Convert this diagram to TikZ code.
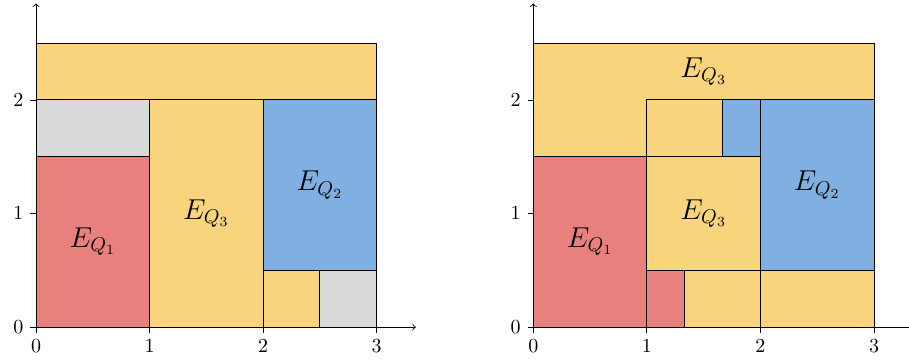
\documentclass[tikz,border=0pt]{standalone}
\definecolor{regionred}{RGB}{232,128,125}
\definecolor{regionyellow}{RGB}{248,213,124}
\definecolor{regionblue}{RGB}{128,176,226}
\definecolor{regiongray}{RGB}{217,217,217}
\usepackage{tikz}
\usepackage{amsmath,amssymb}
\usetikzlibrary{arrows,positioning,calc}

\begin{document}
\begin{tikzpicture}[x=2cm,y=2cm,
    cell/.style={draw=black, line width=0.5pt},
    region/.style={font=\Large}]
    \useasboundingbox (-0.317,-0.317) rectangle (7.687,2.88);

    % Left partition
    \filldraw[cell, fill=regionyellow] (0,2) rectangle (3,2.5);
    \filldraw[cell, fill=regiongray] (0,1.5) rectangle (1,2);
    \filldraw[cell, fill=regionred] (0,0) rectangle (1,1.5);
    \filldraw[cell, fill=regionyellow] (1,0) rectangle (2,2);
    \filldraw[cell, fill=regionblue] (2,0.5) rectangle (3,2);
    \filldraw[cell, fill=regionyellow] (2,0) rectangle (2.5,0.5);
    \filldraw[cell, fill=regiongray] (2.5,0) rectangle (3,0.5);

    % Left labels
    \node[region] (lq1) at (0.5,0.75) {$E_{Q_1}$};
    \node[region] (lq3) at (1.5,1) {$E_{Q_3}$};
    \node[region] (lq2) at (2.5,1.25) {$E_{Q_2}$};

    % Left axes
    \draw[->] (0,0) -- (3.345,0);
    \draw[->] (0,0) -- (0,2.85);
    \foreach \i in {0,1,2,3} {
        \draw (\i,0) -- (\i,-0.05);
        \node[below] (lx\i) at (\i,-0.05) {$\i$};
    }
    \foreach \j in {0,1,2} {
        \draw (0,\j) -- (-0.05,\j);
        \node[left] (ly\j) at (-0.05,\j) {$\j$};
    }

    \begin{scope}[xshift=8.758cm]
        % Right partition
        \filldraw[cell, fill=regionyellow] (0,1.5) -- (0,2.5) -- (3,2.5) -- (3,2) -- (1,2) -- (1,1.5) -- cycle;
        \filldraw[cell, fill=regionred] (0,0) rectangle (1,1.5);
        \filldraw[cell, fill=regionred] (1,0) rectangle (4/3,0.5);
        \filldraw[cell, fill=regionyellow] (4/3,0) rectangle (2,0.5);
        \filldraw[cell, fill=regionyellow] (2,0) rectangle (3,0.5);
        \filldraw[cell, fill=regionyellow] (1,0.5) rectangle (2,1.5);
        \filldraw[cell, fill=regionblue] (2,0.5) rectangle (3,2);
        \filldraw[cell, fill=regionyellow] (1,1.5) rectangle (5/3,2);
        \filldraw[cell, fill=regionblue] (5/3,1.5) rectangle (2,2);

        % Right labels
        \node[region] (rq1) at (0.5,0.75) {$E_{Q_1}$};
        \node[region] (rq3) at (1.5,1) {$E_{Q_3}$};
        \node[region] (rq3top) at (1.5,2.25) {$E_{Q_3}$};
        \node[region] (rq2) at (2.5,1.25) {$E_{Q_2}$};

        % Right axes
        \draw[->] (0,0) -- (3.345,0);
        \draw[->] (0,0) -- (0,2.85);
        \foreach \i in {0,1,2,3} {
            \draw (\i,0) -- (\i,-0.05);
            \node[below] (rx\i) at (\i,-0.05) {$\i$};
        }
        \foreach \j in {0,1,2} {
            \draw (0,\j) -- (-0.05,\j);
            \node[left] (ry\j) at (-0.05,\j) {$\j$};
        }
    \end{scope}
\end{tikzpicture}
\end{document}
